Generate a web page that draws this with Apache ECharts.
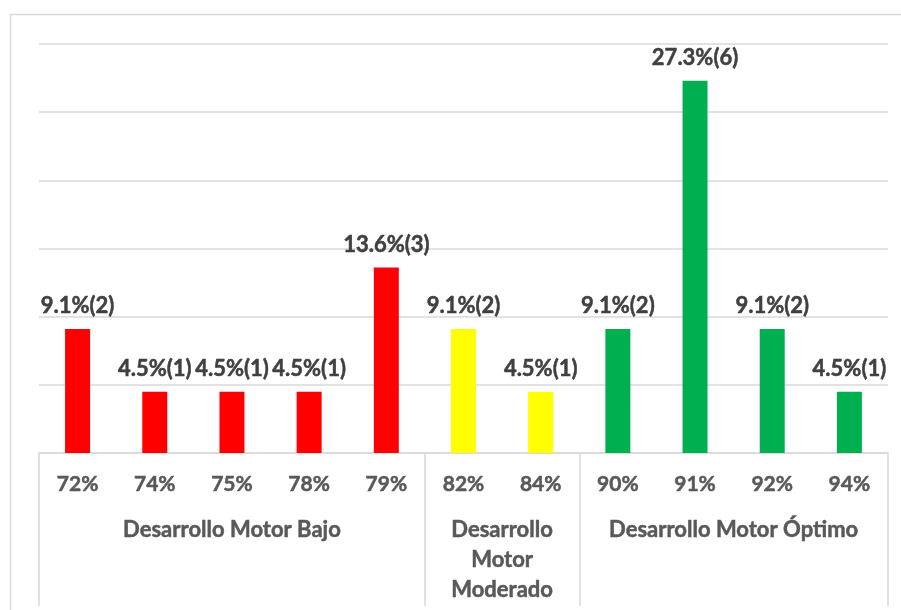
<!DOCTYPE html>
<html>
<head>
<meta charset="utf-8">
<script src="https://cdn.jsdelivr.net/npm/echarts@6/dist/echarts.min.js"></script>
<style>
  html, body { margin: 0; padding: 0; background: #fff; }
  #chart { width: 901px; height: 610px; }
</style>
</head>
<body>
<div id="chart"></div>
<script>
const categories = ["72%", "74%", "75%", "78%", "79%", "82%", "84%", "90%", "91%", "92%", "94%"];
const percents = [9.1, 4.5, 4.5, 4.5, 13.6, 9.1, 4.5, 9.1, 27.3, 9.1, 4.5];
const counts = [2, 1, 1, 1, 3, 2, 1, 2, 6, 2, 1];
const groups = ["Desarrollo Motor Bajo", "Desarrollo Motor Moderado", "Desarrollo Motor Óptimo"];
const groupSizes = [5, 2, 4];
const groupColors = ["#ff0000", "#ffff00", "#00b050"];

// boundaries and centres of the groups along the category axis
const bounds = [0];
groupSizes.forEach((n) => bounds.push(bounds[bounds.length - 1] + n));
const centres = groupSizes.map((n, i) => bounds[i] + n / 2);

const barColors = [];
groupSizes.forEach((n, i) => {
  for (let k = 0; k < n; k++) barColors.push(groupColors[i]);
});

const font = "Lato";
const axisText = {
  color: "#595959",
  fontFamily: font,
  fontWeight: "bold",
  fontSize: 21,
  textBorderColor: "#595959",
  textBorderWidth: 0.5,
};
const chart = echarts.init(document.getElementById("chart"));

const option = {
  animation: false,
  textStyle: { fontFamily: font },
  graphic: [
    {
      type: "rect",
      shape: { x: 10.5, y: 14.5, width: 900, height: 620 },
      style: { fill: "none", stroke: "#d9d9d9", lineWidth: 1.5 },
      silent: true,
    },
  ],
  grid: { left: 39, right: 13, top: 44, bottom: 157 },
  xAxis: [
    {
      type: "category",
      data: categories,
      axisLine: { lineStyle: { color: "#d9d9d9", width: 1.5 } },
      axisTick: { show: false },
      axisLabel: Object.assign({ margin: 21 }, axisText),
    },
    {
      type: "value",
      min: 0,
      max: categories.length,
      position: "bottom",
      axisLine: { show: false },
      splitLine: { show: false },
      axisTick: {
        show: true,
        customValues: bounds,
        length: 153,
        lineStyle: { color: "#d9d9d9", width: 1.5 },
      },
      axisLabel: Object.assign({}, axisText, {
        customValues: centres,
        fontSize: 22,
        lineHeight: 30,
        margin: 62,
        formatter: (v) => {
          const i = centres.indexOf(v);
          if (i < 0) return "";
          return groupSizes[i] < 3 ? groups[i].split(" ").join("\n") : groups[i];
        },
      }),
    },
  ],
  yAxis: {
    type: "value",
    min: 0,
    max: 30,
    interval: 5,
    axisLine: { show: false },
    axisTick: { show: false },
    axisLabel: { show: false },
    splitLine: { lineStyle: { color: "#d9d9d9", width: 1.5 } },
  },
  series: [
    {
      type: "bar",
      xAxisIndex: 0,
      barWidth: 25,
      data: percents.map((v, i) => ({ value: v, itemStyle: { color: barColors[i] } })),
      label: {
        show: true,
        position: "top",
        distance: 12,
        color: "#404040",
        fontFamily: font,
        fontWeight: "bold",
        fontSize: 22,
        textBorderColor: "#404040",
        textBorderWidth: 0.5,
        formatter: (p) => `${percents[p.dataIndex].toFixed(1)}%(${counts[p.dataIndex]})`,
      },
    },
  ],
};

chart.setOption(option);
</script>
</body>
</html>
